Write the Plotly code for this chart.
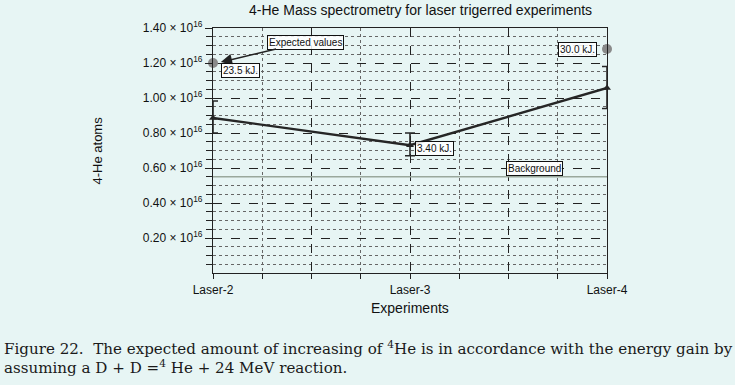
import plotly.graph_objects as go

# ---- data ----
experiments = ["Laser-2", "Laser-3", "Laser-4"]
exp_pos = [0, 1, 2]
measured = [0.886, 0.730, 1.057]          # x 10^16 atoms
err_plus = [0.097, 0.070, 0.123]
err_minus = [0.086, 0.060, 0.117]
expected_pos = [0, 2]
expected = [1.20, 1.28]
expected_labels = ["23.5 kJ.", "30.0 kJ."]
background_level = 0.55
y_ticks = [0.20, 0.40, 0.60, 0.80, 1.00, 1.20, 1.40]
y_ticktext = [f"{v:.2f} × 10<sup>16</sup>" for v in y_ticks]

BG = "#e7f5f4"
SANS = "Liberation Sans, Arial, sans-serif"
SERIF = "DejaVu Serif, Liberation Serif, serif"

fig = go.Figure()

# background level line
fig.add_trace(go.Scatter(
    x=[exp_pos[0], exp_pos[-1]], y=[background_level, background_level],
    mode="lines", line=dict(color="#9aa89c", width=1.6), hoverinfo="skip",
    showlegend=False))

# measured values
fig.add_trace(go.Scatter(
    x=exp_pos, y=measured, mode="lines+markers",
    line=dict(color="#262626", width=2.4),
    marker=dict(symbol="triangle-up", size=7, color="#262626"),
    error_y=dict(type="data", symmetric=False, array=err_plus, arrayminus=err_minus,
                 color="#262626", thickness=1.6, width=5),
    showlegend=False, cliponaxis=False))

# expected values
fig.add_trace(go.Scatter(
    x=expected_pos, y=expected, mode="markers",
    marker=dict(symbol="circle", size=10, color="#8a8a8a"),
    showlegend=False, cliponaxis=False))

box = dict(bordercolor="#111", borderwidth=1, bgcolor="rgba(255,255,255,0.85)",
           font=dict(family=SANS, size=10, color="#111"), borderpad=1)

fig.add_annotation(x=0.04, y=1.205, ax=0.47, ay=1.32, axref="x", ayref="y",
                   text="Expected values", showarrow=True, arrowhead=2, arrowsize=1.4,
                   arrowwidth=1.6, arrowcolor="#222", **box)
fig.add_annotation(x=0.14, y=1.16, text=expected_labels[0], showarrow=False, **box)
fig.add_annotation(x=1.848, y=1.28, text=expected_labels[1], showarrow=False, **box)
fig.add_annotation(x=1.124, y=0.709, text="3.40 kJ.", showarrow=False, **box)
fig.add_annotation(x=1.63, y=0.60, text="Background", showarrow=False, **box)

# title
fig.add_annotation(xref="paper", yref="paper", x=(420 - 213) / 394, y=(273 - 10) / 245,
                   text="4-He Mass spectrometry for laser trigerred experiments",
                   showarrow=False, xanchor="center", yanchor="middle",
                   font=dict(family=SANS, size=14, color="#111"))

# axis titles
fig.add_annotation(xref="paper", yref="paper", x=(97 - 213) / 394, y=0.5, text="4-He atoms",
                   textangle=-90, showarrow=False, xanchor="center", yanchor="middle",
                   font=dict(family=SANS, size=13, color="#111"))
fig.add_annotation(xref="paper", yref="paper", x=0.5, y=(273 - 308) / 245, text="Experiments",
                   showarrow=False, xanchor="center", yanchor="middle",
                   font=dict(family=SANS, size=14, color="#111"))

# caption
fig.add_annotation(xref="paper", yref="paper", x=-0.535, y=-0.305, xanchor="left",
                   yanchor="middle", align="left", showarrow=False,
                   text="Figure 22.&nbsp;&nbsp;The expected amount of increasing of "
                        "<sup>4</sup>He is in accordance with the energy gain by",
                   font=dict(family=SERIF, size=15.1, color="#1a1a1a"))
fig.add_annotation(xref="paper", yref="paper", x=-0.535, y=-0.385, xanchor="left",
                   yanchor="middle", align="left", showarrow=False,
                   text="assuming a D + D =<sup>4</sup> He + 24 MeV reaction.",
                   font=dict(family=SERIF, size=15.1, color="#1a1a1a"))

fig.update_layout(
    width=735, height=385,
    margin=dict(l=213, r=128, t=28, b=112, autoexpand=False),
    paper_bgcolor=BG, plot_bgcolor=BG,
    font=dict(family=SANS, color="#111"),
)

fig.update_xaxes(
    automargin=False,
    range=[0, 2], tickmode="array",
    tickvals=[0, 0.5, 1, 1.5, 2], ticktext=[experiments[0], "", experiments[1], "", experiments[2]],
    showgrid=True, gridcolor="#222", griddash="dash", gridwidth=1,
    minor=dict(tickvals=[0.25, 0.75, 1.25, 1.75], showgrid=True, gridcolor="#666",
               griddash="dot", gridwidth=1, ticks="outside", ticklen=5, tickcolor="#222"),
    ticks="outside", ticklen=5, tickcolor="#222",
    showline=True, linecolor="#222", linewidth=1.2, mirror=True,
    zeroline=False, tickfont=dict(family=SANS, size=12, color="#111"),
)
fig.update_yaxes(
    automargin=False,
    range=[0, 1.4], tickmode="array", tickvals=y_ticks, ticktext=y_ticktext,
    showgrid=True, gridcolor="#222", griddash="dash", gridwidth=1,
    minor=dict(tickvals=[v / 20 for v in range(1, 28) if v % 4 != 0], showgrid=True,
               gridcolor="#666", griddash="dot", gridwidth=1,
               ticks="outside", ticklen=6, tickcolor="#222"),
    ticks="outside", ticklen=7, tickcolor="#222",
    showline=True, linecolor="#222", linewidth=1.2, mirror=True,
    zeroline=False, tickfont=dict(family=SANS, size=12, color="#111"),
)

fig.write_html("out.html", config={"displayModeBar": False},
               post_script="document.body.style.margin='0';document.body.style.background='%s';" % BG)
